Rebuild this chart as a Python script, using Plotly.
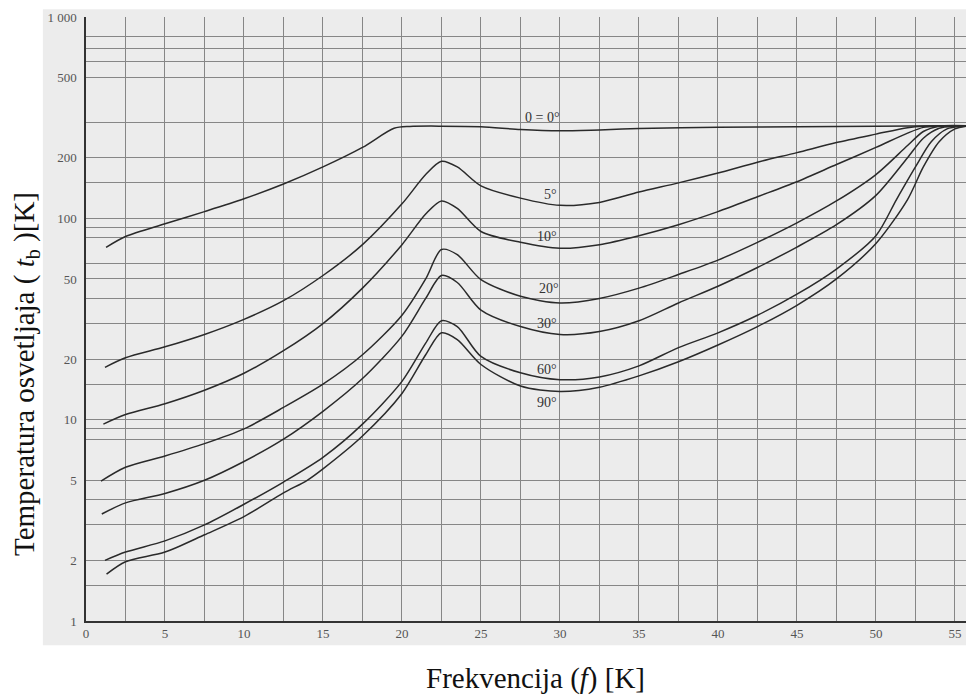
import math
import plotly.graph_objects as go

# ---- data ----
x_0 = [1.27, 2.5, 5, 7.5, 10, 12.5, 15, 17.5, 19.5, 20.5, 22.5, 25, 27.5, 30, 32.5, 35, 40, 45, 50, 55, 56]
y_0 = [71.8, 81.3, 94, 108, 125, 148, 180, 225, 280, 286, 287, 285, 276, 272, 275, 279, 283, 285, 287, 288, 288]

x_5 = [1.2, 2.5, 5, 7.5, 10, 12.5, 15, 17.5, 20, 21.5, 22.5, 23.5, 25, 27.5, 30, 32.5, 35, 37.5, 40, 42.5, 45, 47.5, 50, 52, 53, 56]
y_5 = [18.2, 20.3, 23, 26.5, 31.5, 39, 52, 74, 118, 165, 192, 180, 145, 126, 116, 120, 135, 150, 168, 190, 212, 238, 262, 282, 287, 288]

x_10 = [1.1, 2.5, 5, 7.5, 10, 12.5, 15, 17.5, 20, 21.5, 22.5, 23.5, 25, 27.5, 30, 32.5, 35, 37.5, 40, 42.5, 45, 47.5, 50, 52, 53, 54, 56]
y_10 = [9.5, 10.6, 12, 14, 17, 22, 30, 45, 74, 105, 122, 112, 86, 76, 71, 74, 82, 93, 108, 128, 152, 185, 225, 265, 283, 287, 288]

x_20 = [0.95, 2.5, 5, 7.5, 10, 12.5, 15, 17.5, 20, 21.5, 22.5, 23.5, 25, 27.5, 30, 32.5, 35, 37.5, 40, 42.5, 45, 47.5, 50, 52, 53, 54, 56]
y_20 = [4.95, 5.8, 6.6, 7.6, 9, 11.5, 15, 21, 33, 50, 70, 66, 49.6, 41, 38, 40, 45, 52.6, 62, 76, 95, 122, 165, 230, 270, 287, 288]

x_30 = [1.0, 2.5, 5, 7.5, 10, 12.5, 15, 17.5, 20, 21.5, 22.5, 23.5, 25, 27.5, 30, 32.5, 35, 37.5, 40, 42.5, 45, 47.5, 50, 52, 53, 54, 55, 56]
y_30 = [3.4, 3.86, 4.3, 5.0, 6.2, 8, 11, 16, 26, 40, 52, 48, 35, 29, 26.5, 27.4, 31, 38, 46, 57, 72, 93, 130, 200, 250, 280, 287, 288]

x_60 = [1.2, 2.5, 5, 7.5, 10, 12.5, 15, 17.5, 20, 21.5, 22.5, 23.5, 25, 27.5, 30, 32.5, 35, 37.5, 40, 42.5, 45, 47.5, 50, 51.3, 52.5, 53.5, 54.5, 55.5, 56]
y_60 = [2.0, 2.2, 2.5, 3.0, 3.8, 4.9, 6.5, 9.5, 15.5, 24, 31, 29, 20.6, 17.1, 15.8, 16.3, 18.5, 22.8, 27, 33, 42, 56, 82, 124, 180, 240, 278, 287, 288]

x_90 = [1.3, 2.5, 5, 7.5, 10, 12.5, 14, 15, 17.5, 20, 21.5, 22.5, 23.5, 25, 27.5, 30, 32.5, 35, 37.5, 40, 42.5, 45, 47.5, 50, 52, 53, 54, 55, 55.7]
y_90 = [1.71, 1.97, 2.2, 2.68, 3.3, 4.33, 5.0, 5.7, 8.3, 13.5, 21, 27, 25, 18.8, 14.7, 13.8, 14.5, 16.5, 19.4, 23.5, 29, 37, 50, 75, 124, 180, 240, 278, 287]

series = [("0 = 0°", x_0, y_0), ("5°", x_5, y_5), ("10°", x_10, y_10), ("20°", x_20, y_20),
          ("30°", x_30, y_30), ("60°", x_60, y_60), ("90°", x_90, y_90)]

label_text = ["0 = 0°", "5°", "10°", "20°", "30°", "60°", "90°"]
label_x = [28.9, 29.4, 29.2, 29.3, 29.2, 29.2, 29.2]
label_y = [318, 132, 81, 45, 30, 17.7, 12.2]

y_tickvals = [1, 2, 5, 10, 20, 50, 100, 200, 500, 1000]
y_ticktext = ["1", "2", "5", "10", "20", "50", "100", "200", "500", "1 000"]
y_minor_vals = [1.5, 3, 4, 8, 9, 15, 30, 40, 60, 80, 90, 150, 300, 600, 700, 800]

x_tickvals = [0, 5, 10, 15, 20, 25, 30, 35, 40, 45, 50, 55]

# ---- figure ----
serif = "Liberation Serif"
grid_c = "#868686"

fig = go.Figure()
for name, xs, ys in series:
    fig.add_trace(go.Scatter(x=xs, y=ys, mode="lines", name=name,
                             line=dict(color="#2a2a2a", width=1.5, shape="spline", smoothing=0.8),
                             showlegend=False, hoverinfo="skip"))

for t, lx, ly in zip(label_text, label_x, label_y):
    # annotation positions on a log axis are given in log10 units
    fig.add_annotation(x=lx, y=math.log10(ly), yref="y", xref="x", text=t, showarrow=False,
                       font=dict(family=serif, size=14, color="#333"))

fig.update_layout(
    width=966, height=697,
    margin=dict(l=86, r=0, t=17, b=76),
    paper_bgcolor="white",
    plot_bgcolor="rgba(0,0,0,0)",
    font=dict(family=serif, color="#444", size=13),
    xaxis=dict(range=[0, 55.7], tickvals=x_tickvals, showgrid=True, gridcolor=grid_c, gridwidth=1,
               zeroline=False, showline=True, linecolor="#333", linewidth=1.5, ticks="",
               tickfont=dict(family=serif, size=13, color="#555"),
               minor=dict(dtick=2.5, tick0=0, showgrid=True, gridcolor=grid_c, gridwidth=1)),
    yaxis=dict(type="log", range=[0, 3], tickvals=y_tickvals, ticktext=y_ticktext,
               showgrid=True, gridcolor=grid_c, gridwidth=1, zeroline=False,
               showline=True, linecolor="#333", linewidth=1.5, ticks="",
               ticklabelstandoff=5,
               tickfont=dict(family=serif, size=13, color="#555"),
               minor=dict(tickvals=y_minor_vals, showgrid=True, gridcolor=grid_c, gridwidth=1)),
)

# scanned paper background
fig.add_shape(type="rect", xref="paper", yref="paper", x0=-0.049, x1=1.0, y0=-0.04, y1=1.013,
              fillcolor="#ececec", line=dict(width=0), layer="below")

fig.add_annotation(xref="paper", yref="paper", x=(535 - 86) / 880, y=(621 - 660) / 604,
                   yanchor="top", text="Frekvencija (<i>f</i>) [K]", showarrow=False,
                   font=dict(family=serif, size=29, color="#111"))
fig.add_annotation(xref="paper", yref="paper", x=(6 - 86) / 880, y=(621 - 374) / 604,
                   xanchor="left", text="Temperatura osvetljaja ( <i>t</i><sub>b</sub> )[K]", showarrow=False,
                   textangle=-90, font=dict(family=serif, size=29, color="#111"))

fig.write_html("out.html")
